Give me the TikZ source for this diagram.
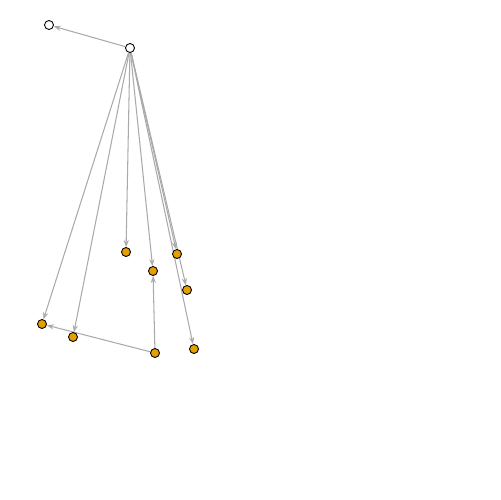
\documentclass[tikz,border=0pt]{standalone}
\usetikzlibrary{arrows.meta,backgrounds}
\definecolor{vorange}{RGB}{230,159,0}
\definecolor{egray}{RGB}{170,170,170}
\begin{document}
\begin{tikzpicture}[x=0.02cm,y=-0.02cm,
  vtx/.style={circle,draw=black,line width=0.5pt,minimum size=0.18cm,inner sep=0pt},
  wv/.style={vtx,fill=white},
  ov/.style={vtx,fill=vorange},
  edge/.style={draw=egray,line width=0.6pt,-{Stealth[length=4pt,width=3pt]}}]
\useasboundingbox (0,0) rectangle (500,500);
\node[wv] (A) at (49,25) {};
\node[wv] (B) at (130,48) {};
\node[ov] (C) at (126,252) {};
\node[ov] (D) at (153,271) {};
\node[ov] (E) at (177,254) {};
\node[ov] (F) at (187,290) {};
\node[ov] (G) at (42,324) {};
\node[ov] (H) at (73,337) {};
\node[ov] (I) at (155,353) {};
\node[ov] (J) at (194,349) {};
\begin{pgfonlayer}{background}
\draw[edge] (B) -- (A);
\draw[edge] (B) -- (G);
\draw[edge] (B) -- (H);
\draw[edge] (B) -- (C);
\draw[edge] (B) -- (D);
\draw[edge] (B) -- (E);
\draw[edge] (B) -- (F);
\draw[edge] (B) -- (J);
\draw[edge] (I) -- (G);
\draw[edge] (I) -- (D);
\end{pgfonlayer}
\end{tikzpicture}
\end{document}
